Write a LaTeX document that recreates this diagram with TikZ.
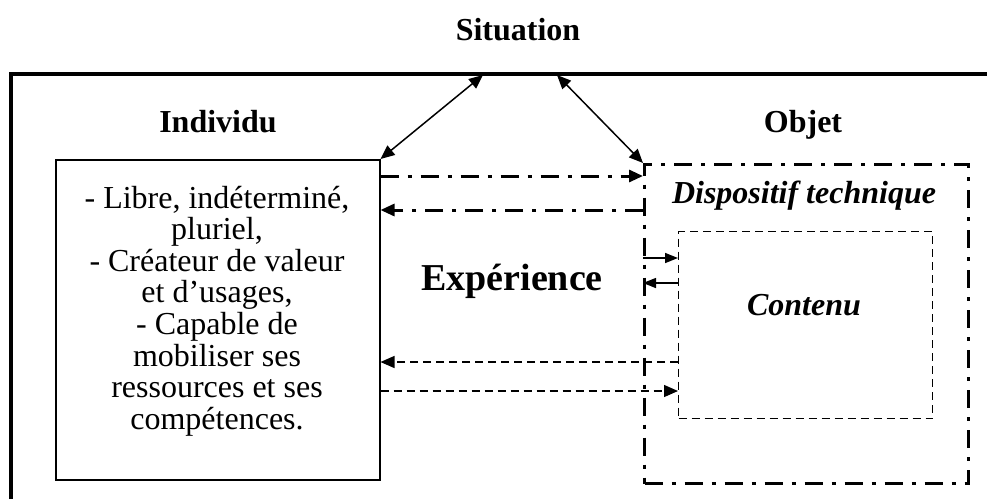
\documentclass[tikz,border=0pt]{standalone}
\usepackage{fontspec}
\setmainfont{Liberation Serif}
\usetikzlibrary{arrows.meta}
\tikzset{
  frameline/.style={line width=3.5pt},
  dashdot/.style={line width=3pt, dash pattern=on 18pt off 9pt on 4pt off 9pt},
  thindash/.style={line width=1.3pt, dash pattern=on 8pt off 5pt},
  tip/.style={-{Triangle[length=14pt,width=12pt]}},
  dtip/.style={{Triangle[length=14pt,width=12pt]}-{Triangle[length=14pt,width=12pt]}},
  stip/.style={-{Triangle[length=13pt,width=10pt]}},
  lbl/.style={font=\fontsize{32}{36}\selectfont\bfseries, inner sep=0pt, anchor=base},
  itl/.style={font=\fontsize{32}{36}\selectfont\bfseries\itshape, inner sep=0pt, anchor=base},
}
\begin{document}
\begin{tikzpicture}[x=1pt,y=-1pt]
\useasboundingbox (0,0) rectangle (987,499);
% outer frame (open at bottom and right)
\coordinate (fbl) at (11,499);
\coordinate (ftl) at (11,74);
\coordinate (ftr) at (987,74);
\draw[frameline] (fbl) -- (ftl) -- (ftr);
\coordinate (s1) at (483,75);
\coordinate (s2) at (557,75);

\node[lbl] (sit) at (518,40) {Situation};
\node[lbl] (indl) at (218,132) {Individu};
\node[lbl] (objl) at (803,132) {Objet};

% boxes
\node[draw, line width=1.5pt, minimum width=324pt, minimum height=320pt, anchor=north west, inner sep=0pt] (ind) at (55,159) {};
\node[align=center, font=\fontsize{32}{31.6}\selectfont, inner sep=0pt] (indt) at (217,311)
  {- Libre, indéterminé,\\ pluriel,\\ - Créateur de valeur\\ et d’usages,\\ - Capable de\\ mobiliser ses\\ ressources et ses\\ compétences.};
\node[draw, dashdot, minimum width=324pt, minimum height=319pt, anchor=north west, inner sep=0pt] (disp) at (643,163) {};
\node[draw, thindash, minimum width=254pt, minimum height=187pt, anchor=north west, inner sep=0pt] (cont) at (678,231) {};

\node[itl] (dispt) at (804,203) {Dispositif technique};
\node[itl] (contt) at (804,315) {Contenu};
\node[font=\fontsize{38}{42}\selectfont\bfseries, inner sep=0pt, anchor=base] (exp) at (512,290) {Expérience};

% double arrows to Situation
\draw[line width=1.5pt, dtip] (ind.north east) -- (s1);
\draw[line width=1.5pt, dtip] (s2) -- (disp.north west);

% level coordinates
\coordinate (y1) at (0,176);
\coordinate (y2) at (0,210);
\coordinate (y3) at (0,258);
\coordinate (y4) at (0,283);
\coordinate (y5) at (0,362);
\coordinate (y6) at (0,391);

\draw[dashdot, tip] (ind.east |- y1) -- (disp.west |- y1);
\draw[dashdot, tip] (disp.west |- y2) -- (ind.east |- y2);
\draw[line width=1.5pt, stip] (disp.west |- y3) -- (cont.west |- y3);
\draw[line width=1.5pt, stip] (cont.west |- y4) -- (disp.west |- y4);
\draw[thindash, tip] (cont.west |- y5) -- (ind.east |- y5);
\draw[thindash, tip] (ind.east |- y6) -- (cont.west |- y6);
\end{tikzpicture}
\end{document}
